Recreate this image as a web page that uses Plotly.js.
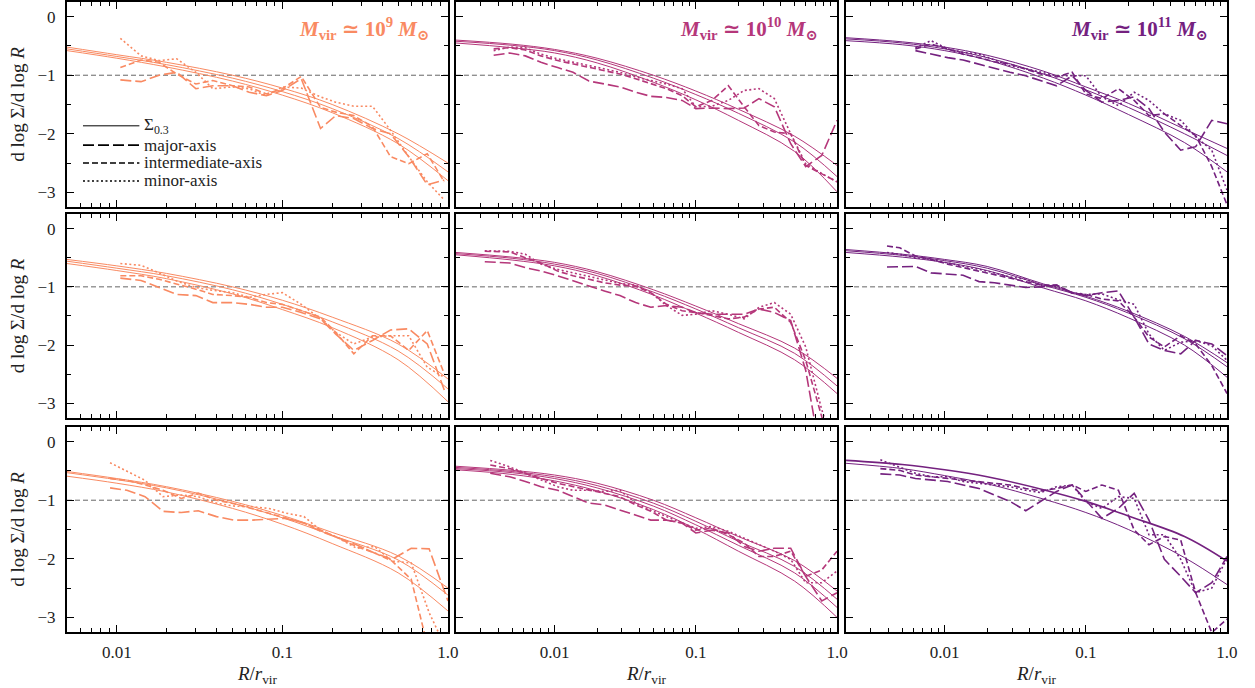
<!DOCTYPE html>
<html>
<head>
<meta charset="utf-8">
<script src="https://cdn.plot.ly/plotly-3.0.1.min.js"></script>
<style>html,body{margin:0;padding:0;background:#fff;}</style>
</head>
<body>
<div id="chart" style="width:1255px;height:688px;"></div>
<script>
// Logarithmic slope of the surface density profile, d log Σ / d log R,
// for three halo masses (columns) and three haloes each (rows).

const COL1 = '#f98a62';   // M_vir ~ 1e9
const COL2 = '#b5377a';   // M_vir ~ 1e10
const COL3 = '#74217f';   // M_vir ~ 1e11

// ---- radii of the smooth Σ0.3 fits ----
const fitR_c1 = [0.005, 0.01, 0.02, 0.05, 0.1, 0.2, 0.5, 1.0];
const fitR_c23 = [0.002, 0.005, 0.01, 0.02, 0.05, 0.1, 0.2, 0.5, 1.0];

// ---- radii of the measured profiles ----
const R_11 = [0.0105,0.014,0.018,0.023,0.03,0.038,0.05,0.063,0.08,0.1,0.13,0.17,0.21,0.27,0.35,0.45,0.58,0.75,0.95];
const R_21 = [0.0105,0.014,0.018,0.023,0.03,0.038,0.05,0.063,0.08,0.1,0.13,0.17,0.21,0.27,0.35,0.45,0.58,0.75,0.95];
const R_31 = [0.0091,0.0115,0.0148,0.019,0.0245,0.031,0.04,0.051,0.065,0.083,0.105,0.135,0.17,0.22,0.28,0.36,0.46,0.6,0.77,1.0];
const R_12 = [0.0037,0.0048,0.0062,0.008,0.0105,0.0135,0.0175,0.0225,0.029,0.0375,0.048,0.062,0.08,0.1,0.13,0.17,0.22,0.28,0.36,0.47,0.6,0.78,1.0];
const R_22 = [0.0032,0.0048,0.0062,0.008,0.0105,0.0135,0.0175,0.0225,0.029,0.0375,0.048,0.062,0.08,0.1,0.13,0.17,0.22,0.28,0.36,0.47,0.6,0.78,1.0];
const R_32 = [0.0035,0.0048,0.0062,0.008,0.0105,0.0135,0.0175,0.0225,0.029,0.0375,0.048,0.062,0.08,0.1,0.13,0.17,0.22,0.28,0.36,0.47,0.6,0.78,1.0];
const R_13 = [0.0062,0.008,0.0105,0.0135,0.0175,0.0225,0.029,0.0375,0.048,0.062,0.08,0.1,0.13,0.17,0.22,0.28,0.36,0.47,0.6,0.78,1.0];
const R_23 = [0.0039,0.0048,0.0062,0.008,0.0105,0.0135,0.0175,0.0225,0.029,0.0375,0.048,0.062,0.08,0.1,0.13,0.17,0.22,0.28,0.36,0.47,0.6,0.78,1.0];
const R_33 = [0.0035,0.0048,0.0062,0.008,0.0105,0.0135,0.0175,0.0225,0.029,0.0375,0.048,0.062,0.08,0.1,0.13,0.17,0.22,0.28,0.36,0.47,0.6,0.78,1.0];

// ---- column 1: M_vir ~ 1e9 ----
const fitA_11 = [-0.52,-0.65,-0.78,-1.00,-1.22,-1.50,-2.00,-2.50];
const fitB_11 = [-0.55,-0.68,-0.82,-1.05,-1.28,-1.57,-2.08,-2.65];
const fitC_11 = [-0.58,-0.71,-0.86,-1.10,-1.34,-1.64,-2.17,-2.80];
const major_11 = [-1.08,-1.11,-1.00,-0.95,-1.23,-1.18,-1.18,-1.29,-1.35,-1.26,-1.06,-1.91,-1.69,-1.74,-1.91,-2.00,-2.39,-2.87,-2.79];
const inter_11 = [-0.87,-0.74,-0.78,-0.98,-1.15,-1.09,-1.18,-1.20,-1.32,-1.23,-1.02,-1.55,-1.63,-1.69,-1.88,-2.39,-2.51,-2.34,-2.82];
const minor_11 = [-0.37,-0.67,-0.75,-0.72,-0.95,-1.23,-1.20,-1.23,-1.35,-1.20,-1.22,-1.37,-1.46,-1.53,-1.53,-1.94,-2.39,-2.82,-3.13];

const fitA_21 = [-0.53,-0.64,-0.77,-1.00,-1.23,-1.52,-1.98,-2.58];
const fitB_21 = [-0.56,-0.68,-0.81,-1.05,-1.30,-1.60,-2.10,-2.75];
const fitC_21 = [-0.60,-0.72,-0.86,-1.12,-1.39,-1.70,-2.25,-2.97];
const major_21 = [-0.85,-0.89,-1.01,-1.13,-1.15,-1.27,-1.27,-1.30,-1.35,-1.35,-1.44,-1.55,-1.81,-2.09,-1.92,-1.74,-1.72,-1.98,-2.77];
const inter_21 = [-0.81,-0.81,-0.87,-0.95,-1.04,-1.13,-1.15,-1.18,-1.27,-1.30,-1.41,-1.52,-1.78,-2.15,-1.84,-1.84,-2.09,-1.75,-2.49];
const minor_21 = [-0.60,-0.63,-0.76,-0.90,-1.01,-1.06,-1.10,-1.18,-1.13,-1.10,-1.30,-1.55,-1.78,-1.98,-1.86,-1.84,-1.84,-2.38,-2.55];

const fitA_31 = [-0.51,-0.63,-0.77,-1.02,-1.26,-1.55,-1.95,-2.50];
const fitB_31 = [-0.53,-0.65,-0.79,-1.05,-1.30,-1.60,-2.02,-2.62];
const fitC_31 = [-0.59,-0.71,-0.86,-1.14,-1.41,-1.74,-2.24,-2.89];
const major_31 = [-0.79,-0.83,-0.94,-1.19,-1.21,-1.18,-1.28,-1.34,-1.34,-1.32,-1.31,-1.39,-1.53,-1.65,-1.76,-1.90,-2.01,-1.82,-1.83,-2.72];
const inter_31 = [-0.63,-0.66,-0.74,-0.83,-0.97,-0.88,-1.00,-1.06,-1.14,-1.22,-1.31,-1.39,-1.51,-1.65,-1.79,-1.90,-2.04,-2.35,-3.60];
const minor_31 = [-0.36,-0.51,-0.66,-0.94,-0.91,-0.94,-1.05,-1.10,-1.11,-1.14,-1.22,-1.28,-1.51,-1.65,-1.82,-1.79,-2.04,-2.07,-2.92,-3.60];

// ---- column 2: M_vir ~ 1e10 ----
const fitA_12 = [-0.40,-0.47,-0.56,-0.71,-1.00,-1.27,-1.58,-2.04,-2.54];
const fitB_12 = [-0.42,-0.49,-0.58,-0.74,-1.05,-1.33,-1.65,-2.14,-2.73];
const fitC_12 = [-0.45,-0.53,-0.62,-0.79,-1.12,-1.42,-1.77,-2.30,-2.99];
const major_12 = [-0.66,-0.62,-0.67,-0.78,-0.87,-0.95,-1.10,-1.15,-1.20,-1.29,-1.36,-1.38,-1.43,-1.57,-1.56,-1.57,-1.56,-1.40,-1.54,-2.17,-2.56,-2.37,-1.77];
const inter_12 = [-0.55,-0.53,-0.57,-0.67,-0.75,-0.81,-0.87,-0.92,-0.98,-1.06,-1.15,-1.23,-1.35,-1.54,-1.43,-1.18,-1.54,-1.86,-1.97,-2.00,-2.54,-2.68,-2.82];
const minor_12 = [-0.58,-0.52,-0.53,-0.64,-0.72,-0.78,-0.84,-0.89,-0.95,-1.03,-1.09,-1.15,-1.23,-1.54,-1.53,-1.43,-1.26,-1.23,-1.40,-2.00,-2.51,-2.68,-2.82];

const fitA_22 = [-0.41,-0.49,-0.58,-0.74,-1.05,-1.33,-1.63,-2.05,-2.57];
const fitB_22 = [-0.43,-0.51,-0.61,-0.77,-1.09,-1.38,-1.70,-2.14,-2.70];
const fitC_22 = [-0.45,-0.54,-0.64,-0.81,-1.14,-1.45,-1.78,-2.25,-2.83];
const major_22 = [-0.57,-0.59,-0.67,-0.73,-0.81,-0.90,-0.99,-1.07,-1.15,-1.27,-1.35,-1.32,-1.35,-1.44,-1.47,-1.47,-1.47,-1.38,-1.44,-1.58,-2.43,-4.00];
const inter_22 = [-0.39,-0.40,-0.50,-0.59,-0.73,-0.81,-0.87,-0.93,-0.97,-0.99,-1.10,-1.30,-1.41,-1.44,-1.49,-1.55,-1.52,-1.38,-1.35,-1.61,-2.26,-3.23,-3.90];
const minor_22 = [-0.38,-0.39,-0.44,-0.61,-0.70,-0.76,-0.81,-0.87,-0.94,-0.97,-1.10,-1.32,-1.49,-1.47,-1.41,-1.47,-1.55,-1.35,-1.27,-1.47,-2.03,-3.11,-3.90];

const fitA_32 = [-0.42,-0.49,-0.57,-0.71,-1.00,-1.30,-1.62,-2.03,-2.55];
const fitB_32 = [-0.44,-0.51,-0.60,-0.75,-1.05,-1.36,-1.70,-2.13,-2.69];
const fitC_32 = [-0.46,-0.53,-0.63,-0.79,-1.10,-1.42,-1.77,-2.24,-2.83];
const fitD_32 = [-0.48,-0.56,-0.67,-0.84,-1.16,-1.49,-1.87,-2.38,-3.00];
const major_32 = [-0.54,-0.60,-0.68,-0.77,-0.83,-0.94,-1.05,-1.08,-1.17,-1.25,-1.34,-1.34,-1.39,-1.56,-1.51,-1.56,-1.79,-1.87,-1.82,-1.82,-2.30,-2.72,-2.58];
const inter_32 = [-0.40,-0.46,-0.54,-0.63,-0.71,-0.77,-0.83,-0.88,-0.94,-1.08,-1.19,-1.34,-1.39,-1.51,-1.48,-1.59,-1.73,-1.96,-1.96,-1.87,-2.30,-2.19,-1.87];
const minor_32 = [-0.32,-0.43,-0.54,-0.65,-0.77,-0.83,-0.83,-0.85,-0.83,-1.05,-1.17,-1.28,-1.39,-1.48,-1.45,-1.53,-1.65,-1.76,-1.87,-2.01,-2.41,-2.41,-2.21];

// ---- column 3: M_vir ~ 1e11 ----
const fitA_13 = [-0.36,-0.43,-0.52,-0.66,-0.93,-1.20,-1.48,-1.92,-2.25];
const fitB_13 = [-0.38,-0.45,-0.55,-0.70,-0.98,-1.25,-1.55,-2.00,-2.37];
const fitC_13 = [-0.41,-0.48,-0.58,-0.74,-1.05,-1.34,-1.67,-2.15,-2.65];
const major_13 = [-0.58,-0.64,-0.70,-0.74,-0.81,-0.89,-0.95,-1.01,-1.09,-1.18,-1.01,-1.26,-1.46,-1.43,-1.37,-1.57,-1.97,-2.28,-2.22,-1.77,-1.83];
const inter_13 = [-0.55,-0.47,-0.55,-0.64,-0.70,-0.77,-0.81,-0.89,-0.98,-1.03,-0.95,-1.32,-1.40,-1.23,-1.43,-1.69,-1.66,-1.86,-2.03,-2.56,-3.21];
const minor_13 = [-0.53,-0.41,-0.55,-0.61,-0.64,-0.74,-0.84,-0.89,-0.95,-1.01,-1.01,-1.01,-1.37,-1.52,-1.29,-1.43,-1.66,-1.77,-2.05,-2.28,-2.96];

const fitA_23 = [-0.36,-0.44,-0.53,-0.65,-0.95,-1.16,-1.42,-1.85,-2.30];
const fitB_23 = [-0.38,-0.46,-0.55,-0.68,-0.97,-1.18,-1.45,-1.89,-2.37];
const fitC_23 = [-0.41,-0.49,-0.58,-0.72,-1.02,-1.24,-1.53,-2.00,-2.55];
const major_23 = [-0.66,-0.65,-0.65,-0.76,-0.78,-0.80,-0.91,-0.93,-0.97,-1.01,-1.00,-0.97,-1.10,-1.15,-1.10,-1.07,-1.52,-1.98,-2.09,-2.15,-1.92,-1.98,-2.18];
const inter_23 = [-0.30,-0.33,-0.47,-0.53,-0.61,-0.67,-0.73,-0.78,-0.84,-0.91,-0.97,-0.97,-1.11,-1.13,-1.21,-1.24,-1.52,-1.86,-2.03,-1.84,-1.98,-2.35,-2.83];
const minor_23 = [-0.41,-0.44,-0.50,-0.53,-0.59,-0.64,-0.70,-0.76,-0.83,-0.87,-0.97,-0.99,-1.10,-1.13,-1.12,-1.22,-1.30,-1.81,-2.09,-1.95,-1.92,-2.01,-2.26];

const fitA_33 = [-0.32,-0.39,-0.48,-0.60,-0.82,-1.02,-1.27,-1.62,-2.04];
const fitB_33 = [-0.37,-0.46,-0.58,-0.72,-0.98,-1.21,-1.50,-1.98,-2.44];
const major_33 = [-0.55,-0.57,-0.63,-0.66,-0.68,-0.74,-0.80,-0.91,-1.02,-1.18,-1.02,-0.85,-0.74,-1.00,-1.31,-1.14,-0.88,-1.34,-2.01,-2.30,-2.58,-2.41,-1.96];
const inter_33 = [-0.46,-0.49,-0.57,-0.60,-0.63,-0.66,-0.68,-0.72,-0.74,-0.80,-0.84,-0.80,-0.74,-0.85,-0.74,-0.83,-1.51,-1.76,-1.62,-1.68,-2.58,-3.26,-3.03];
const minor_33 = [-0.31,-0.43,-0.54,-0.60,-0.60,-0.68,-0.71,-0.74,-0.77,-0.83,-0.87,-0.77,-0.74,-1.03,-1.14,-0.94,-0.97,-1.59,-1.59,-2.01,-2.58,-2.50,-1.99];

// ---- labels ----
const massLabels = ['10<sup>9</sup>', '10<sup>10</sup>', '10<sup>11</sup>'];
const colColors = [COL1, COL2, COL3];
const xTickVals = [0.01, 0.1, 1.0];
const xTickText = ['0.01', '0.1', '1.0'];
const yTickVals = [0, -1, -2, -3];
const yTickText = ['0', '\u22121', '\u22122', '\u22123'];
const legendNames = ['\u03A3<sub>0.3</sub>', 'major-axis', 'intermediate-axis', 'minor-axis'];

// ---- line styles ----
const DASH_MAJOR = '11px,4px';
const DASH_INTER = '6px,3px';
const DASH_MINOR = '2px,2.5px';
const legendDashes = ['solid', DASH_MAJOR, DASH_INTER, DASH_MINOR];
const legendWidths = [1.0, 1.6, 1.6, 1.6];

const panels = [
  {r:1, c:1, fitR:fitR_c1,  fits:[fitA_11,fitB_11,fitC_11], R:R_11, major:major_11, inter:inter_11, minor:minor_11},
  {r:1, c:2, fitR:fitR_c23, fits:[fitA_12,fitB_12,fitC_12], R:R_12, major:major_12, inter:inter_12, minor:minor_12},
  {r:1, c:3, fitR:fitR_c23, fits:[fitA_13,fitB_13,fitC_13], R:R_13, major:major_13, inter:inter_13, minor:minor_13},
  {r:2, c:1, fitR:fitR_c1,  fits:[fitA_21,fitB_21,fitC_21], R:R_21, major:major_21, inter:inter_21, minor:minor_21},
  {r:2, c:2, fitR:fitR_c23, fits:[fitA_22,fitB_22,fitC_22], R:R_22, major:major_22, inter:inter_22, minor:minor_22},
  {r:2, c:3, fitR:fitR_c23, fits:[fitA_23,fitB_23,fitC_23], R:R_23, major:major_23, inter:inter_23, minor:minor_23},
  {r:3, c:1, fitR:fitR_c1,  fits:[fitA_31,fitB_31,fitC_31], R:R_31, major:major_31, inter:inter_31, minor:minor_31},
  {r:3, c:2, fitR:fitR_c23, fits:[fitA_32,fitB_32,fitC_32,fitD_32], R:R_32, major:major_32, inter:inter_32, minor:minor_32},
  {r:3, c:3, fitR:fitR_c23, fits:[fitA_33,fitB_33], R:R_33, major:major_33, inter:inter_33, minor:minor_33}
];

// subplot geometry (paper fractions of the plotting area)
const xDom = [[0, 0.3284], [0.3353, 0.6638], [0.6716, 1.0]];
const yDom = [[0.6746, 1.0], [0.3397, 0.6635], [0.0, 0.3254]];
const xRangeLog = [[Math.log10(0.005), 0], [Math.log10(0.002), 0], [Math.log10(0.002), 0]];

const FONT = '"Liberation Serif", "DejaVu Serif", serif';

// minor tick positions on the log axes
const minorX = [];
[0.001, 0.01, 0.1].forEach(d => { for (let k = 2; k <= 9; k++) minorX.push(+(k * d).toPrecision(3)); });

const traces = [];
const layout = {
  width: 1255, height: 688,
  margin: {l: 67, r: 28, t: 2, b: 56},
  paper_bgcolor: '#fff', plot_bgcolor: '#fff',
  font: {family: FONT, size: 17, color: '#222'},
  showlegend: false,
  shapes: [], annotations: []
};

panels.forEach((p, idx) => {
  const n = idx + 1;
  const xa = 'x' + (n === 1 ? '' : n);
  const ya = 'y' + (n === 1 ? '' : n);
  const color = colColors[p.c - 1];

  p.fits.forEach((f, k) => {
    traces.push({
      x: p.fitR, y: f, xaxis: xa, yaxis: ya, type: 'scatter', mode: 'lines',
      line: {color: color, width: (p.r === 3 && p.c === 3 && k === 0) ? 1.6 : 1.0, shape: 'spline', smoothing: 1},
      showlegend: false, hoverinfo: 'skip'
    });
  });
  [[p.major, DASH_MAJOR], [p.inter, DASH_INTER], [p.minor, DASH_MINOR]].forEach(([ys, dash]) => {
    traces.push({
      x: p.R.slice(0, ys.length), y: ys, xaxis: xa, yaxis: ya, type: 'scatter', mode: 'lines',
      line: {color: color, width: 1.6, dash: dash},
      showlegend: false, hoverinfo: 'skip'
    });
  });

  const bottom = p.r === 3, left = p.c === 1;
  const xAxis = {
    type: 'log', domain: xDom[p.c - 1], range: xRangeLog[p.c - 1], anchor: ya,
    showgrid: false, zeroline: false,
    showline: true, linecolor: '#000', linewidth: 2, mirror: 'allticks',
    ticks: 'inside', ticklen: 7, tickwidth: 1, tickcolor: '#000',
    tickmode: 'array', tickvals: xTickVals, ticktext: xTickText,
    showticklabels: bottom, ticklabelstandoff: 4,
    tickfont: {family: FONT, size: 17, color: '#222'},
    minor: {ticks: 'inside', ticklen: 4, tickwidth: 1, tickcolor: '#000', tickmode: 'array', tickvals: minorX, showgrid: false}
  };
  if (bottom) xAxis.title = {text: '<i>R</i>/<i>r</i><sub>vir</sub>', font: {family: FONT, size: 19, color: '#222'}, standoff: 5};
  layout['xaxis' + (n === 1 ? '' : n)] = xAxis;

  const yAxis = {
    domain: yDom[p.r - 1], range: [-3.25, 0.25], anchor: xa,
    showgrid: false, zeroline: false,
    showline: true, linecolor: '#000', linewidth: 2, mirror: 'allticks',
    ticks: 'inside', ticklen: 7, tickwidth: 1, tickcolor: '#000',
    tickmode: 'array', tickvals: yTickVals, ticktext: yTickText,
    showticklabels: left, ticklabelstandoff: 6,
    tickfont: {family: FONT, size: 17, color: '#222'},
    minor: {ticks: 'inside', ticklen: 4, tickwidth: 1, tickcolor: '#000', dtick: 0.5, tick0: 0, showgrid: false}
  };
  if (left) yAxis.title = {text: 'd log \u03A3/d log <i>R</i>', font: {family: FONT, size: 19, color: '#222'}, standoff: 8};
  layout['yaxis' + (n === 1 ? '' : n)] = yAxis;

  // reference slope of -1
  layout.shapes.push({
    type: 'line', xref: xa + ' domain', yref: ya, x0: 0, x1: 1, y0: -1, y1: -1,
    line: {color: '#666', width: 1, dash: '5px,3px'}, layer: 'below'
  });

  if (p.r === 1) {
    layout.annotations.push({
      xref: xa + ' domain', yref: ya + ' domain', x: 0.955, y: 0.95,
      xanchor: 'right', yanchor: 'top', showarrow: false,
      text: '<b><i>M</i><sub>vir</sub> \u2243 ' + massLabels[p.c - 1] + ' <i>M</i><sub>\u2299</sub></b>',
      font: {family: FONT, size: 21, color: color}
    });
  }
});

// key for the line styles, placed inside the top-left panel
const keyRows = [0.396, 0.302, 0.215, 0.127];
legendNames.forEach((name, k) => {
  layout.shapes.push({
    type: 'line', xref: 'x domain', yref: 'y domain',
    x0: 0.042, x1: 0.19, y0: keyRows[k], y1: keyRows[k],
    line: {color: '#000', width: legendWidths[k], dash: legendDashes[k]}
  });
  layout.annotations.push({
    xref: 'x domain', yref: 'y domain', x: 0.198, y: keyRows[k],
    xanchor: 'left', yanchor: 'middle', showarrow: false,
    text: name, font: {family: FONT, size: 17, color: '#222'}
  });
});

Plotly.newPlot('chart', traces, layout, {staticPlot: true, displayModeBar: false});
</script>
</body>
</html>
